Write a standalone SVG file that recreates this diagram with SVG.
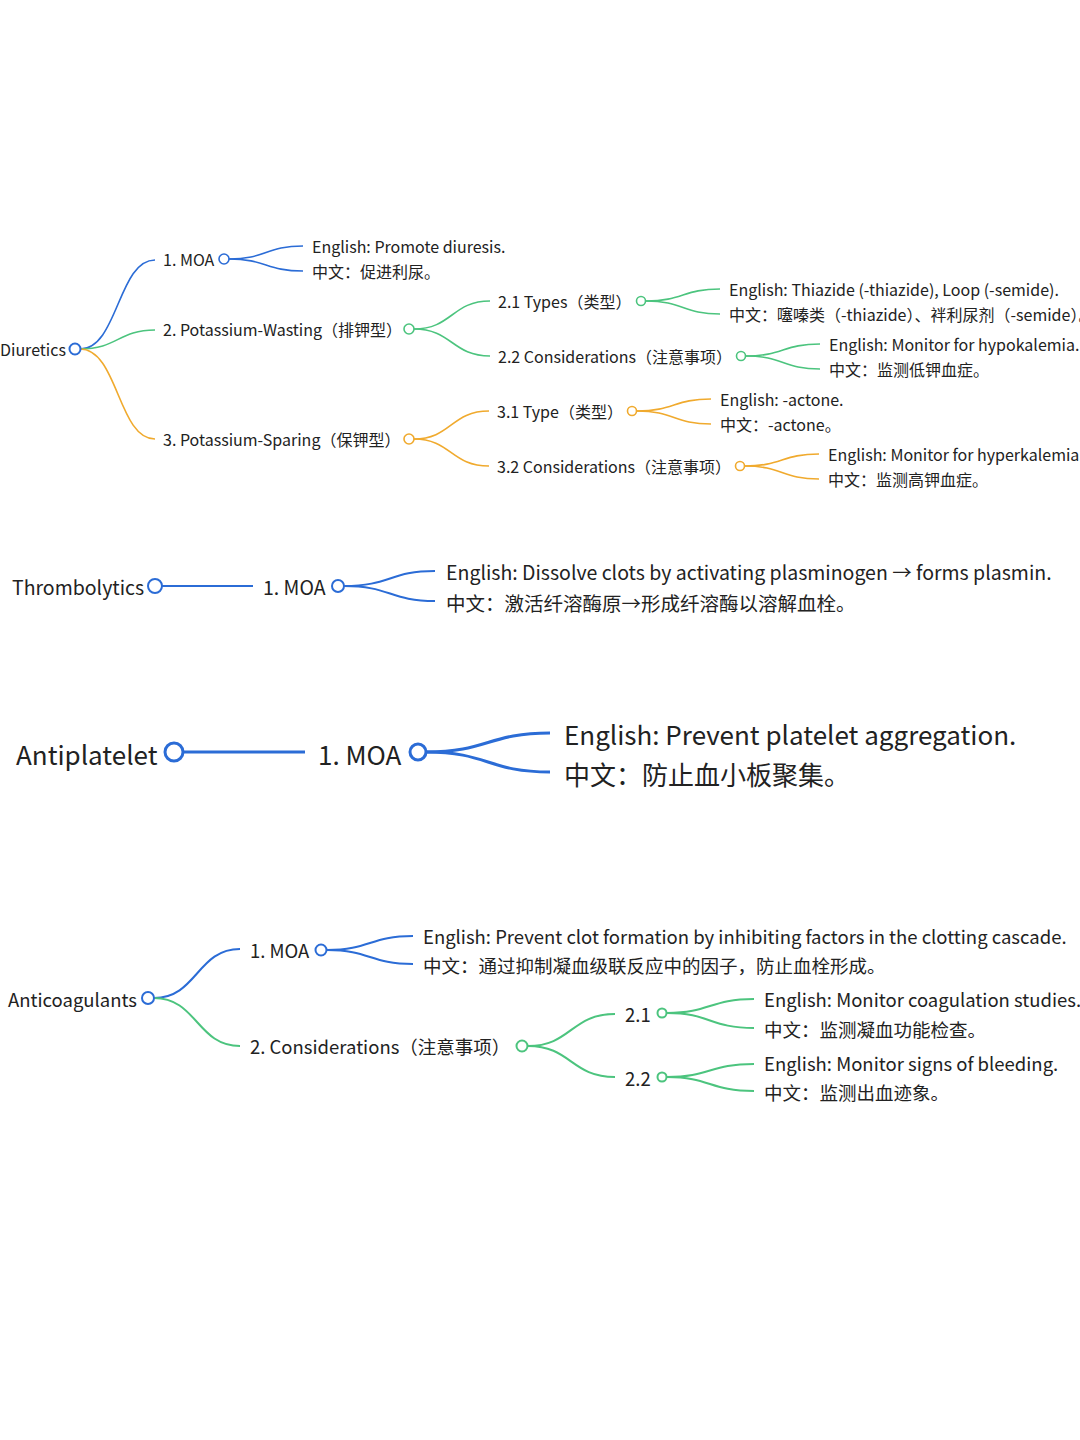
<svg xmlns="http://www.w3.org/2000/svg" width="1080" height="1440" viewBox="0 0 1080 1440">
<style>
text{font-family:"Noto Sans CJK SC","Noto Sans",sans-serif;fill:#222;dominant-baseline:central}
.s1{font-size:16px}.s2{font-size:19.5px}.s3{font-size:26px}.s4{font-size:18.5px}
.b{stroke:#2b6cd6}.g{stroke:#4cc47e}.o{stroke:#f0aa2e}
path{fill:none}
.w1{stroke-width:1.6}.w2{stroke-width:2}.w3{stroke-width:3}
circle{fill:#fff}
</style>
<rect width="1080" height="1440" fill="#fff"/>
<g id="connectors">
<path class="b w1" d="M80 349 C118 349 118 260 155 260"/>
<path class="g w1" d="M80 349 C118 349 118 330 155 330"/>
<path class="o w1" d="M80 349 C118 349 118 439 155 439"/>
<path class="b w1" d="M229 259 C266 259 266 246 303 246"/>
<path class="b w1" d="M229 259 C266 259 266 271 303 271"/>
<path class="g w1" d="M414 329 C452 329 452 301 490 301"/>
<path class="g w1" d="M414 329 C452 329 452 356 490 356"/>
<path class="g w1" d="M646 301 C683 301 683 289 720 289"/>
<path class="g w1" d="M646 301 C683 301 683 314 720 314"/>
<path class="g w1" d="M746 356 C783 356 783 344 820 344"/>
<path class="g w1" d="M746 356 C783 356 783 369 820 369"/>
<path class="o w1" d="M414 439 C451 439 451 411 489 411"/>
<path class="o w1" d="M414 439 C451 439 451 466 489 466"/>
<path class="o w1" d="M637 411 C674 411 674 399 711 399"/>
<path class="o w1" d="M637 411 C674 411 674 424 711 424"/>
<path class="o w1" d="M745 466 C782 466 782 454 819 454"/>
<path class="o w1" d="M745 466 C782 466 782 479 819 479"/>
<path class="b w2" d="M162 586 L253 586"/>
<path class="b w2" d="M344 586 C390 586 390 571 435 571"/>
<path class="b w2" d="M344 586 C390 586 390 601 435 601"/>
<path class="b w3" d="M183 752 L305 752"/>
<path class="b w3" d="M426 752 C488 752 488 733 550 733"/>
<path class="b w3" d="M426 752 C488 752 488 772 550 772"/>
<path class="b w2" d="M154 998 C197 998 197 949 240 949"/>
<path class="g w2" d="M154 998 C197 998 197 1046 240 1046"/>
<path class="b w2" d="M327 950 C370 950 370 936 413 936"/>
<path class="b w2" d="M327 950 C370 950 370 964 413 964"/>
<path class="g w2" d="M528 1046 C571 1046 571 1014 615 1014"/>
<path class="g w2" d="M528 1046 C571 1046 571 1077 615 1077"/>
<path class="g w2" d="M667 1013 C710 1013 710 999 754 999"/>
<path class="g w2" d="M667 1013 C710 1013 710 1028 754 1028"/>
<path class="g w2" d="M667 1077 C710 1077 710 1064 754 1064"/>
<path class="g w2" d="M667 1077 C710 1077 710 1091 754 1091"/>
</g>
<g id="diuretics"><text class="s1" x="0" y="349">Diuretics</text><circle class="b w2" cx="75" cy="349" r="5.5"/></g>
<g id="d-moa"><text class="s1" x="163" y="259">1. MOA</text><circle class="b w1" cx="224" cy="259" r="5"/></g>
<g id="d-moa-en"><text class="s1" x="312" y="246">English: Promote diuresis.</text></g>
<g id="d-moa-zh"><text class="s1" x="312" y="271">中文：促进利尿。</text></g>
<g id="d-pw"><text class="s1" x="163" y="329">2. Potassium-Wasting（排钾型）</text><circle class="g w1" cx="409" cy="329" r="5"/></g>
<g id="d-pw-types"><text class="s1" x="498" y="301">2.1 Types（类型）</text><circle class="g w1" cx="641" cy="301" r="4.5"/></g>
<g id="d-pw-types-en"><text class="s1" x="729" y="289">English: Thiazide (-thiazide), Loop (-semide).</text></g>
<g id="d-pw-types-zh"><text class="s1" x="729" y="314">中文：噻嗪类（-thiazide）、袢利尿剂（-semide）。</text></g>
<g id="d-pw-cons"><text class="s1" x="498" y="356">2.2 Considerations（注意事项）</text><circle class="g w1" cx="741" cy="356" r="4.5"/></g>
<g id="d-pw-cons-en"><text class="s1" x="829" y="344">English: Monitor for hypokalemia.</text></g>
<g id="d-pw-cons-zh"><text class="s1" x="829" y="369">中文：监测低钾血症。</text></g>
<g id="d-ps"><text class="s1" x="163" y="439">3. Potassium-Sparing（保钾型）</text><circle class="o w1" cx="409" cy="439" r="5"/></g>
<g id="d-ps-type"><text class="s1" x="497" y="411">3.1 Type（类型）</text><circle class="o w1" cx="632" cy="411" r="4.5"/></g>
<g id="d-ps-type-en"><text class="s1" x="720" y="399">English: -actone.</text></g>
<g id="d-ps-type-zh"><text class="s1" x="720" y="424">中文：-actone。</text></g>
<g id="d-ps-cons"><text class="s1" x="497" y="466">3.2 Considerations（注意事项）</text><circle class="o w1" cx="740" cy="466" r="4.5"/></g>
<g id="d-ps-cons-en"><text class="s1" x="828" y="454">English: Monitor for hyperkalemia.</text></g>
<g id="d-ps-cons-zh"><text class="s1" x="828" y="479">中文：监测高钾血症。</text></g>

<g id="thrombolytics"><text class="s2" x="12" y="586">Thrombolytics</text><circle class="b w2" cx="155" cy="586" r="7"/></g>
<g id="t-moa"><text class="s2" x="263" y="586">1. MOA</text><circle class="b w2" cx="338" cy="586" r="6"/></g>
<g id="t-moa-en"><text class="s2" x="446" y="571">English: Dissolve clots by activating plasminogen → forms plasmin.</text></g>
<g id="t-moa-zh"><text class="s2" x="446" y="602">中文：激活纤溶酶原→形成纤溶酶以溶解血栓。</text></g>

<g id="antiplatelet"><text class="s3" x="16" y="753">Antiplatelet</text><circle class="b w3" cx="174" cy="752" r="9"/></g>
<g id="a-moa"><text class="s3" x="318" y="753">1. MOA</text><circle class="b w3" cx="418" cy="752" r="8"/></g>
<g id="a-moa-en"><text class="s3" x="564" y="733">English: Prevent platelet aggregation.</text></g>
<g id="a-moa-zh"><text class="s3" x="564" y="773">中文：防止血小板聚集。</text></g>

<g id="anticoagulants"><text class="s4" x="8" y="999">Anticoagulants</text><circle class="b w2" cx="148" cy="998" r="6"/></g>
<g id="c-moa"><text class="s4" x="250" y="950">1. MOA</text><circle class="b w2" cx="321" cy="950" r="5.5"/></g>
<g id="c-moa-en"><text class="s4" x="423" y="936">English: Prevent clot formation by inhibiting factors in the clotting cascade.</text></g>
<g id="c-moa-zh"><text class="s4" x="423" y="965">中文：通过抑制凝血级联反应中的因子，防止血栓形成。</text></g>
<g id="c-cons"><text class="s4" x="250" y="1046">2. Considerations（注意事项）</text><circle class="g w2" cx="522" cy="1046" r="5.5"/></g>
<g id="c-cons-1"><text class="s4" x="625" y="1014">2.1</text><circle class="g w2" cx="662" cy="1013" r="4.5"/></g>
<g id="c-cons-1-en"><text class="s4" x="764" y="999">English: Monitor coagulation studies.</text></g>
<g id="c-cons-1-zh"><text class="s4" x="764" y="1029">中文：监测凝血功能检查。</text></g>
<g id="c-cons-2"><text class="s4" x="625" y="1078">2.2</text><circle class="g w2" cx="662" cy="1077" r="4.5"/></g>
<g id="c-cons-2-en"><text class="s4" x="764" y="1063">English: Monitor signs of bleeding.</text></g>
<g id="c-cons-2-zh"><text class="s4" x="764" y="1092">中文：监测出血迹象。</text></g>
</svg>
